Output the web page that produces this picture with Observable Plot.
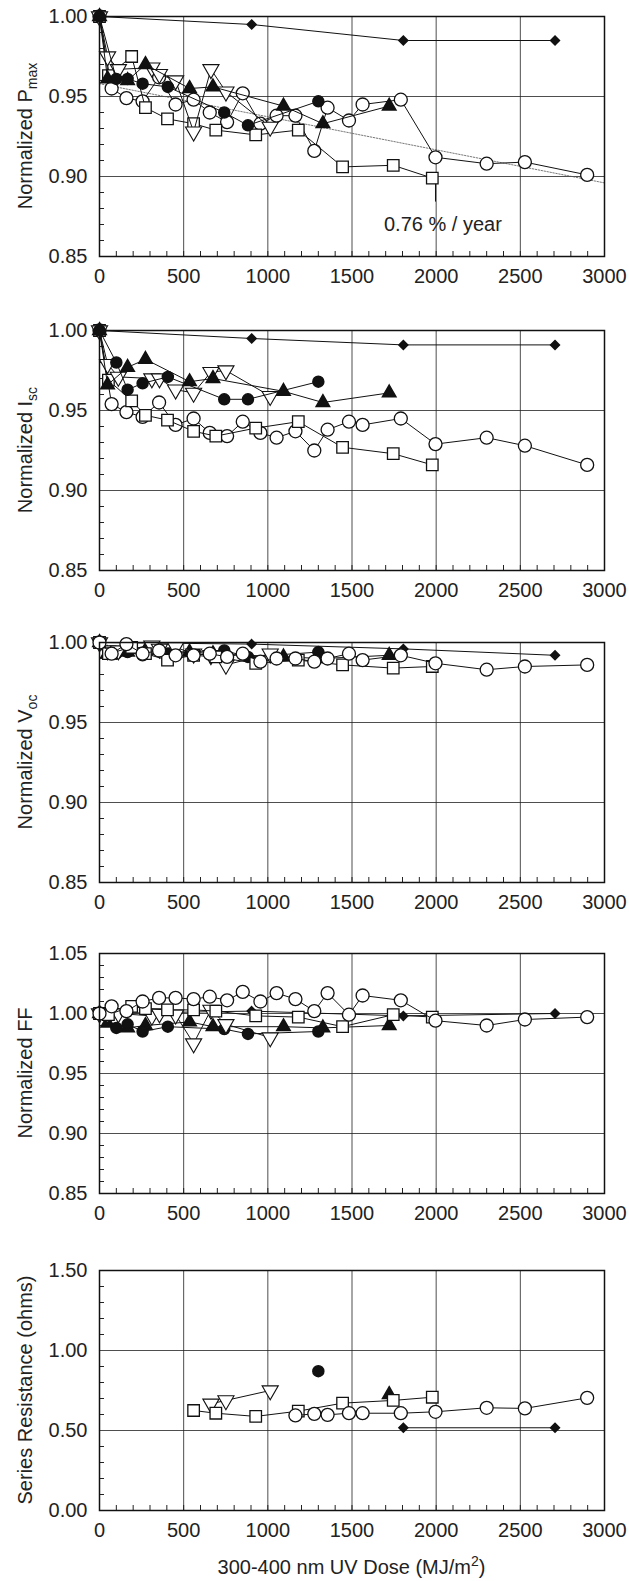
<!DOCTYPE html>
<html>
<head>
<meta charset="utf-8">
<script src="https://cdn.jsdelivr.net/npm/d3@7"></script>
<script src="https://cdn.jsdelivr.net/npm/@observablehq/plot@0.6"></script>
<style>
  body { margin: 0; background: #fff; }
  #chart svg { display: block; }
</style>
</head>
<body>
<div id="chart"></div>
<script>
// doses (MJ/m2) for each sample series
const xCircle  = [0, 72, 160, 256, 354, 452, 559, 655, 758, 851, 956, 1052, 1164, 1276, 1355, 1482, 1563, 1790, 1996, 2300, 2527, 2897]
const xSquare  = [0, 53, 191, 273, 404, 559, 691, 928, 1181, 1444, 1745, 1977]
const xTriDown = [0, 48, 112, 311, 356, 452, 559, 662, 751, 1014]
const xTriUp   = [0, 48, 167, 273, 535, 674, 1093, 1327, 1721]
const xFilled  = [0, 100, 167, 256, 406, 741, 882, 1300]
const xDiamond = [0, 904, 1805, 2706]

// normalized Pmax
const pmaxCircle  = [1, 0.955, 0.949, 0.947, 0.962, 0.945, 0.948, 0.940, 0.934, 0.952, 0.933, 0.938, 0.938, 0.916, 0.943, 0.935, 0.945, 0.948, 0.912, 0.908, 0.909, 0.901]
const pmaxSquare  = [1, 0.963, 0.975, 0.943, 0.936, 0.933, 0.929, 0.926, 0.929, 0.906, 0.907, 0.899]
const pmaxTriDown = [1, 0.975, 0.967, 0.968, 0.964, 0.960, 0.928, 0.967, 0.953, 0.931]
const pmaxTriUp   = [1, 0.961, 0.960, 0.970, 0.955, 0.956, 0.944, 0.933, 0.944]
const pmaxFilled  = [1, 0.961, 0.961, 0.958, 0.956, 0.940, 0.932, 0.947]
const pmaxDiamond = [1, 0.995, 0.985, 0.985]
const trendX = [0, 3000]
const trendY = [0.958, 0.896]

// normalized Isc
const iscCircle  = [1, 0.954, 0.949, 0.946, 0.955, 0.941, 0.945, 0.936, 0.934, 0.943, 0.936, 0.933, 0.937, 0.925, 0.938, 0.943, 0.941, 0.945, 0.929, 0.933, 0.928, 0.916]
const iscSquare  = [1, 0.969, 0.956, 0.947, 0.944, 0.937, 0.934, 0.939, 0.943, 0.927, 0.923, 0.916]
const iscTriDown = [1, 0.979, 0.971, 0.970, 0.970, 0.963, 0.961, 0.974, 0.975, 0.959]
const iscTriUp   = [1, 0.966, 0.977, 0.982, 0.968, 0.970, 0.962, 0.955, 0.961]
const iscFilled  = [1, 0.980, 0.963, 0.967, 0.971, 0.957, 0.957, 0.968]
const iscDiamond = [1, 0.995, 0.991, 0.991]

// normalized Voc
const vocCircle  = [1, 0.993, 0.999, 0.993, 0.995, 0.992, 0.992, 0.993, 0.991, 0.993, 0.988, 0.990, 0.990, 0.988, 0.990, 0.993, 0.989, 0.992, 0.987, 0.983, 0.985, 0.986]
const vocSquare  = [1, 0.993, 0.997, 0.993, 0.989, 0.992, 0.991, 0.987, 0.989, 0.986, 0.984, 0.985]
const vocTriDown = [1, 0.995, 0.995, 0.998, 0.996, 0.997, 0.993, 0.992, 0.986, 0.993]
const vocTriUp   = [1, 0.993, 0.994, 0.995, 0.994, 0.993, 0.991, 0.990, 0.992]
const vocFilled  = [1, 0.993, 0.994, 0.992, 0.993, 0.995, 0.991, 0.994]
const vocDiamond = [1, 0.999, 0.996, 0.992]

// normalized FF
const ffCircle  = [1, 1.006, 1.002, 1.010, 1.013, 1.013, 1.012, 1.014, 1.011, 1.018, 1.010, 1.017, 1.012, 1.002, 1.017, 0.999, 1.015, 1.011, 0.994, 0.990, 0.995, 0.997]
const ffSquare  = [1, 0.999, 1.006, 1.004, 1.003, 1.003, 1.002, 0.998, 0.997, 0.989, 0.999, 0.997]
const ffTriDown = [1, 1.000, 1.000, 0.998, 1.000, 0.999, 0.975, 1.003, 0.991, 0.980]
const ffTriUp   = [1, 0.992, 0.988, 0.990, 0.993, 0.989, 0.989, 0.988, 0.990]
const ffFilled  = [1, 0.988, 0.991, 0.985, 0.989, 0.987, 0.983, 0.985]
const ffDiamond = [1, 1.002, 0.998, 1.000]

// series resistance (ohms)
const rsXCircle  = [1164, 1276, 1355, 1482, 1563, 1790, 1996, 2300, 2527, 2897]
const rsCircle   = [0.594, 0.604, 0.598, 0.608, 0.608, 0.608, 0.617, 0.642, 0.638, 0.704]
const rsXSquare  = [559, 691, 928, 1181, 1444, 1745, 1977]
const rsSquare   = [0.625, 0.608, 0.588, 0.621, 0.671, 0.688, 0.708]
const rsXTriDown = [662, 751, 1014]
const rsTriDown  = [0.667, 0.688, 0.750]
const rsXTriUp   = [1721]
const rsTriUp    = [0.725]
const rsXFilled  = [1300]
const rsFilled   = [0.871]
const rsXDiamond = [1805, 2706]
const rsDiamond  = [0.517, 0.517]

const font = "'Liberation Sans', Arial, sans-serif"

const styles = {
  diamond: {symbol: "diamond2", fill: "#111", stroke: "#111", r: 4},
  circle:  {symbol: "circle", fill: "white", stroke: "#111", r: 6.5, strokeWidth: 1.3},
  square:  {symbol: "square", fill: "white", stroke: "#111", r: 6.5, strokeWidth: 1.3},
  triDown: {symbol: "triangle", fill: "white", stroke: "#111", r: 6, strokeWidth: 1.1, rotate: 180},
  triUp:   {symbol: "triangle", fill: "#111", stroke: "#111", r: 5},
  filled:  {symbol: "circle", fill: "#111", stroke: "#111", r: 5.5}
}

function rows(xs, ys) { return xs.map((x, i) => ({x, y: ys[i]})) }

function panel({series, yDomain, yTicks, yMinor, fmt, label, sub, height, extra = [], xLabel = false}) {
  const marks = [
    Plot.gridY(yTicks, {stroke: "#222", strokeOpacity: 0.8, strokeWidth: 1}),
    Plot.gridX(d3.range(500, 3000, 500), {stroke: "#222", strokeOpacity: 0.8, strokeWidth: 1}),
    Plot.axisY(yTicks, {tickSize: 0, tickPadding: 12, tickFormat: fmt, label: null}),
    Plot.axisY(yMinor, {tickSize: -5, tickFormat: () => "", label: null}),
    Plot.axisX(d3.range(0, 3001, 500), {tickSize: 0, tickPadding: 12, tickFormat: d3.format("d"), label: null}),
    Plot.axisX(d3.range(100, 3000, 100), {tickSize: -5, tickFormat: () => "", label: null}),
    ...extra
  ]
  for (const [key, xs, ys] of series) {
    const data = rows(xs, ys)
    const {rotate, ...s} = styles[key]
    marks.push(Plot.line(data, {x: "x", y: "y", stroke: "#111", strokeWidth: 1}))
    marks.push(Plot.dot(data, {x: "x", y: "y", ...s, rotate: rotate ?? 0}))
  }
  marks.push(Plot.frame({stroke: "#111", strokeWidth: 1.5}))
  const chart = Plot.plot({
    width: 629,
    height,
    marginLeft: 99,
    marginRight: 25,
    marginTop: 16,
    marginBottom: height - 256,
    x: {domain: [0, 3000]},
    y: {domain: yDomain},
    style: {fontFamily: font, fontSize: "20px", color: "#222", overflow: "visible"},
    marks
  })
  const svg = d3.select(chart)
  svg.selectAll("text").attr("font-size", 20)
  const t = svg.append("text")
    .attr("transform", `translate(32,${16 + 120}) rotate(-90)`)
    .attr("text-anchor", "middle")
    .attr("font-family", font).attr("font-size", 20).attr("fill", "#222")
  t.append("tspan").text(label)
  if (sub) t.append("tspan").attr("font-size", 14).attr("dy", 5).text(sub)
  if (xLabel) {
    const x = svg.append("text")
      .attr("x", 99 + 505 / 2).attr("y", 320)
      .attr("text-anchor", "middle")
      .attr("font-family", font).attr("font-size", 20).attr("fill", "#222")
    x.append("tspan").text("300-400 nm UV Dose (MJ/m")
    x.append("tspan").attr("font-size", 14).attr("dy", -8).text("2")
    x.append("tspan").attr("dy", 8).text(")")
  }
  d3.select("#chart").append(() => chart)
}

const norm = {
  yDomain: [0.85, 1.0],
  yTicks: [0.85, 0.90, 0.95, 1.00],
  yMinor: d3.range(86, 100).filter(v => v % 5).map(v => v / 100),
  fmt: d3.format(".2f")
}

panel({
  ...norm, label: "Normalized P", sub: "max", height: 314,
  series: [["circle", xCircle, pmaxCircle], ["square", xSquare, pmaxSquare], ["triDown", xTriDown, pmaxTriDown],
           ["triUp", xTriUp, pmaxTriUp], ["filled", xFilled, pmaxFilled], ["diamond", xDiamond, pmaxDiamond]],
  extra: [
    Plot.line(rows(trendX, trendY), {x: "x", y: "y", stroke: "#555", strokeWidth: 0.8, strokeDasharray: "1.5,1.5"}),
    Plot.ruleX([1996], {y1: 0.898, y2: 0.884, stroke: "#111", strokeWidth: 1}),
    Plot.text(["0.76 % / year"], {x: 2040, y: 0.870, fill: "#222"})
  ]
})

panel({
  ...norm, label: "Normalized I", sub: "sc", height: 312,
  series: [["circle", xCircle, iscCircle], ["square", xSquare, iscSquare], ["triDown", xTriDown, iscTriDown],
           ["triUp", xTriUp, iscTriUp], ["filled", xFilled, iscFilled], ["diamond", xDiamond, iscDiamond]]
})

panel({
  ...norm, label: "Normalized V", sub: "oc", height: 311,
  series: [["diamond", xDiamond, vocDiamond], ["triUp", xTriUp, vocTriUp], ["filled", xFilled, vocFilled],
           ["triDown", xTriDown, vocTriDown], ["square", xSquare, vocSquare], ["circle", xCircle, vocCircle]]
})

panel({
  yDomain: [0.85, 1.05], yTicks: [0.85, 0.90, 0.95, 1.00, 1.05],
  yMinor: d3.range(86, 105).filter(v => v % 5).map(v => v / 100), fmt: d3.format(".2f"),
  label: "Normalized FF", height: 317,
  series: [["diamond", xDiamond, ffDiamond], ["triUp", xTriUp, ffTriUp], ["filled", xFilled, ffFilled],
           ["triDown", xTriDown, ffTriDown], ["square", xSquare, ffSquare], ["circle", xCircle, ffCircle]]
})

panel({
  yDomain: [0, 1.5], yTicks: [0, 0.5, 1.0, 1.5],
  yMinor: d3.range(1, 15).filter(v => v % 5).map(v => v / 10), fmt: d3.format(".2f"),
  label: "Series Resistance (ohms)", height: 327, xLabel: true,
  series: [["diamond", rsXDiamond, rsDiamond], ["triUp", rsXTriUp, rsTriUp], ["filled", rsXFilled, rsFilled],
           ["triDown", rsXTriDown, rsTriDown], ["square", rsXSquare, rsSquare], ["circle", rsXCircle, rsCircle]]
})
</script>
</body>
</html>
